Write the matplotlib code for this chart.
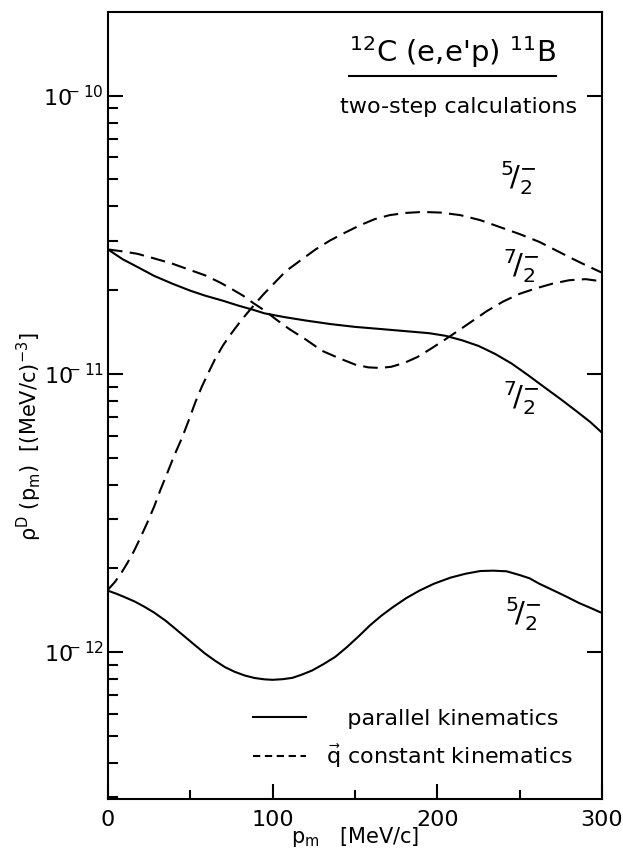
import numpy as np
import matplotlib
matplotlib.use("Agg")
import matplotlib.pyplot as plt
from matplotlib.lines import Line2D
from matplotlib.ticker import FixedLocator, NullFormatter

# parallel kinematics, 7/2- state  (units 1e-11)
par72_x = [0, 9, 18, 28, 39, 50, 59, 70, 79, 88, 95, 107, 120, 135, 150, 165, 180, 195,
           205, 215, 225, 235, 245, 255, 265, 275, 285, 293, 300]
par72_y = [2.80, 2.58, 2.42, 2.25, 2.11, 1.99, 1.91, 1.83, 1.76, 1.70, 1.65, 1.60, 1.555,
           1.51, 1.475, 1.45, 1.425, 1.40, 1.37, 1.32, 1.26, 1.18, 1.09, 0.99, 0.895, 0.81,
           0.73, 0.67, 0.614]

# q constant kinematics, 7/2- state  (units 1e-11)
qc72_x = [0, 10, 18, 28, 39, 50, 59, 68, 75, 82, 88, 95, 102, 110, 120, 130, 140, 150,
          158, 165, 172, 180, 188, 196, 204, 212, 220, 230, 240, 250, 260, 270, 280, 290, 300]
qc72_y = [2.80, 2.75, 2.70, 2.60, 2.49, 2.36, 2.26, 2.13, 2.02, 1.91, 1.80, 1.69, 1.57,
          1.45, 1.33, 1.21, 1.14, 1.08, 1.055, 1.05, 1.06, 1.095, 1.15, 1.23, 1.32, 1.42,
          1.53, 1.68, 1.82, 1.94, 2.03, 2.11, 2.17, 2.19, 2.15]

# q constant kinematics, 5/2- state  (units 1e-11)
qc52_x = [0, 4, 8, 12, 16, 20, 24, 28, 32, 36, 40, 45, 49, 53, 57, 61, 65, 70, 75, 81, 87,
          94, 101, 108, 117, 126, 135, 144, 153, 162, 171, 181, 191, 202, 214, 226, 238,
          250, 262, 271, 280, 290, 300]
qc52_y = [0.1675, 0.178, 0.192, 0.21, 0.232, 0.26, 0.293, 0.333, 0.385, 0.44, 0.505, 0.59,
          0.68, 0.79, 0.90, 1.01, 1.13, 1.27, 1.40, 1.56, 1.72, 1.92, 2.12, 2.34, 2.56,
          2.80, 3.02, 3.22, 3.42, 3.60, 3.72, 3.79, 3.82, 3.80, 3.72, 3.57, 3.37, 3.18,
          2.98, 2.80, 2.63, 2.46, 2.31]

# parallel kinematics, 5/2- state  (units 1e-12)
par52_x = [0, 5, 10, 16, 22, 28, 35, 41, 47, 53, 59, 65, 71, 77, 83, 89, 95, 100, 106,
           112, 118, 124, 131, 138, 145, 152, 159, 166, 173, 181, 189, 198, 208, 217, 226,
           234, 242, 250, 256, 262, 270, 278, 286, 293, 300]
par52_y = [1.66, 1.62, 1.575, 1.52, 1.455, 1.385, 1.295, 1.21, 1.13, 1.055, 0.986, 0.93,
           0.882, 0.848, 0.823, 0.806, 0.797, 0.794, 0.798, 0.807, 0.83, 0.858, 0.905,
           0.96, 1.04, 1.135, 1.245, 1.35, 1.449, 1.56, 1.66, 1.76, 1.85, 1.91, 1.954,
           1.96, 1.95, 1.89, 1.84, 1.758, 1.67, 1.585, 1.50, 1.44, 1.38]

state_labels = [r'$^{5}\!/_{2}^{-}$', r'$^{7}\!/_{2}^{-}$', r'$^{7}\!/_{2}^{-}$', r'$^{5}\!/_{2}^{-}$']
label_x = [249, 251, 251, 252]
label_y = [5.05e-11, 2.44e-11, 8.17e-12, 1.37e-12]

major_y = [1e-12, 1e-11, 1e-10]
major_y_labels = [r'$10^{\!\!\!-12}$', r'$10^{\!\!\!-11}$', r'$10^{\!\!\!-10}$']
minor_y = [m * 10.0 ** e for e in (-13, -12, -11) for m in range(2, 10)]

fig = plt.figure(figsize=(6.23, 8.56), dpi=100)
ax = fig.add_axes([0.1734, 0.0666, 0.7929, 0.9194])

lw = 1.5
dash = (7, 3.5)
ax.plot(par72_x, np.array(par72_y) * 1e-11, color='k', lw=lw)
ax.plot(par52_x, np.array(par52_y) * 1e-12, color='k', lw=lw)
ax.plot(qc72_x, np.array(qc72_y) * 1e-11, color='k', lw=lw, dashes=dash)
ax.plot(qc52_x, np.array(qc52_y) * 1e-11, color='k', lw=lw, dashes=dash)

ax.set_yscale('log')
ax.set_xlim(0, 300)
ax.set_ylim(2.96e-13, 2e-10)

ax.set_xticks([0, 100, 200, 300])
ax.set_xticks([50, 150, 250], minor=True)
ax.yaxis.set_major_locator(FixedLocator(major_y))
ax.yaxis.set_minor_locator(FixedLocator(minor_y))
ax.yaxis.set_minor_formatter(NullFormatter())
ax.set_yticklabels(major_y_labels)

ax.tick_params(which='both', direction='in', top=False, width=1.5, labelsize=16)
ax.tick_params(which='major', length=11, pad=8)
ax.tick_params(which='minor', length=7)
ax.tick_params(axis='y', which='major', right=True, pad=3, labelsize=16)
ax.tick_params(axis='y', which='minor', right=False)
ax.tick_params(axis='x', which='minor', length=6.5)
for s in ax.spines.values():
    s.set_linewidth(1.5)

ax.set_xlabel(r'p$_\mathrm{m}$   [MeV/c]', fontsize=15, labelpad=-4)
ax.set_ylabel(r'ρ$^\mathrm{D}$ (p$_\mathrm{m}$)  [(MeV/c)$^{-3}$]', fontsize=15)
ax.yaxis.set_label_coords(-0.13, 0.46)

for lab, lx, ly in zip(state_labels, label_x, label_y):
    ax.text(lx, ly, lab, fontsize=21, ha='center', va='center')

title = ax.text(0.698, 0.949, r"$^{12}$C (e,e'p) $^{11}$B", transform=ax.transAxes,
                fontsize=21, ha='center', va='center')
ax.text(0.709, 0.879, 'two-step calculations', transform=ax.transAxes,
        fontsize=16, ha='center', va='center')

handles = [Line2D([], [], color='k', lw=lw),
           Line2D([], [], color='k', lw=lw, dashes=(3.5, 2.2))]
ax.legend(handles, ['   parallel kinematics', r'$\vec{\mathrm{q}}$ constant kinematics'],
          loc='lower left', bbox_to_anchor=(0.253, 0.012), frameon=False, fontsize=16,
          handlelength=2.4, handletextpad=0.9, labelspacing=0.6)

# underline under the reaction title
fig.canvas.draw()
bb = title.get_window_extent().transformed(ax.transAxes.inverted())
ax.plot([bb.x0, bb.x1], [bb.y0 - 0.008, bb.y0 - 0.008], color='k', lw=1.5,
        transform=ax.transAxes, clip_on=False)

fig.savefig('out.png', dpi=100)
